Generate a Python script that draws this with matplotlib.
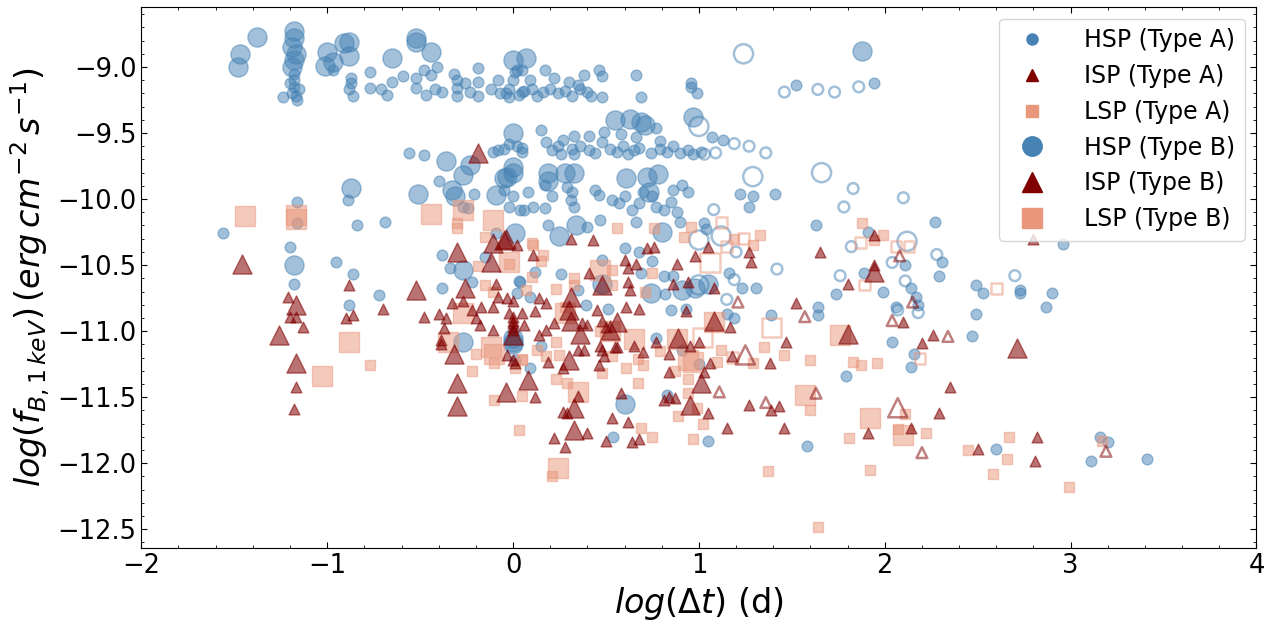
"""
Flux vs log(dt) scatter, HSP / ISP / LSP, Type A and Type B
"""
import numpy as np
import matplotlib
matplotlib.use('Agg')
import matplotlib.pyplot as plt
from matplotlib.lines import Line2D
from matplotlib.ticker import MultipleLocator

C_HSP = '#4682b4'
C_ISP = '#800000'
C_LSP = '#e9967a'

# ---- HSP, Type A (small filled circles) ----
hsp_a = [
    (-1.24, -9.23), (-1.18, -9.05), (-1.18, -9.1), (-1.18, -9.15), (-1.19, -9.2), (-1.17, -9.22),
    (-1.16, -9.25), (-1.2, -9.12), (-1.15, -9.17), (-0.97, -9.02), (-0.87, -9.08), (-0.87, -9.12),
    (-0.88, -9.17), (-0.86, -9.22), (-0.77, -9.04), (-0.77, -9.16), (-0.71, -9.17), (-0.68, -9.21),
    (-0.65, -9.11), (-0.59, -9.07), (-0.48, -9.02), (-0.52, -9.08), (-0.52, -9.16), (-0.47, -9.21),
    (-0.44, -9.06), (-0.41, -9.0), (-0.42, -9.17), (-0.38, -9.19), (-0.32, -9.05), (-0.3, -9.1),
    (-0.3, -9.16), (-0.3, -9.22), (-0.26, -9.12), (-0.19, -9.01), (-0.19, -9.11), (-0.19, -9.22),
    (-0.23, -9.19), (-0.12, -9.17), (-0.08, -9.1), (-0.07, -9.2), (-0.02, -9.17), (0.02, -9.02),
    (0.0, -9.1), (-0.02, -9.23), (0.05, -9.19), (-0.04, -9.2), (0.03, -9.21), (0.06, -9.18),
    (0.1, -9.17), (0.13, -9.22), (0.16, -9.19), (0.2, -9.17), (0.24, -9.2), (0.28, -9.18),
    (0.32, -9.22), (0.36, -9.17), (0.4, -9.19), (0.42, -9.22), (0.48, -9.23), (0.01, -9.04),
    (0.05, -9.02), (0.09, -9.1), (0.17, -9.02), (0.22, -9.08), (0.3, -9.11), (0.35, -9.14),
    (0.38, -9.06), (0.46, -9.02), (0.48, -9.07), (0.66, -9.06), (0.69, -9.23), (0.96, -9.12),
    (0.96, -9.15), (0.99, -9.2), (1.52, -9.14), (1.94, -9.12),
    (-0.56, -9.65), (-0.48, -9.67), (-0.11, -9.64), (-0.08, -9.63), (-0.02, -9.58), (0.05, -9.61),
    (0.15, -9.48), (0.49, -9.49), (0.58, -9.51), (0.77, -9.46), (1.07, -9.53), (1.13, -9.55),
    (-0.05, -9.62), (0.02, -9.6), (0.05, -9.64), (0.21, -9.63), (0.24, -9.6), (0.26, -9.66),
    (0.32, -9.62), (0.33, -9.66), (0.36, -9.6), (0.41, -9.63), (0.44, -9.65), (0.52, -9.62),
    (0.56, -9.64), (0.59, -9.6), (0.62, -9.66), (0.65, -9.63), (0.68, -9.61), (0.74, -9.65),
    (0.79, -9.62), (0.83, -9.64), (0.86, -9.6), (0.9, -9.65), (0.94, -9.63), (0.97, -9.66),
    (1.01, -9.64), (0.27, -9.55), (0.33, -9.52), (0.41, -9.52), (0.66, -9.53), (0.79, -9.56),
    (0.18, -9.57), (0.48, -9.57),
    (-0.89, -10.01), (-0.4, -9.86), (-0.27, -10.06), (-0.24, -10.07), (-0.21, -9.96), (-0.02, -10.06),
    (0.06, -10.08), (-0.05, -9.93), (0.0, -9.98), (0.08, -9.95), (0.11, -10.06), (0.04, -10.08),
    (0.17, -9.89), (0.17, -10.07), (0.21, -9.98), (0.29, -9.91), (0.31, -10.01), (0.33, -10.06),
    (0.32, -9.95), (0.44, -9.93), (0.46, -9.97), (0.53, -10.01), (0.57, -10.03), (0.6, -9.98),
    (0.64, -10.08), (0.68, -10.03), (0.7, -9.95), (0.75, -9.98), (0.77, -10.06), (0.81, -10.08),
    (0.86, -9.93), (0.85, -10.02), (0.91, -9.89), (0.94, -9.95), (0.88, -10.1), (1.22, -9.96),
    (1.29, -9.98), (1.27, -10.06), (1.41, -9.96),
    (-1.16, -10.02), (-1.16, -10.18), (-0.84, -10.2), (-0.69, -10.17), (-1.56, -10.26), (-1.2, -10.36),
    (-1.18, -10.64), (-0.95, -10.48), (-0.86, -10.57), (-0.88, -10.8), (-0.72, -10.73), (-0.38, -10.42),
    (-0.34, -10.52), (-0.38, -10.67), (-0.22, -10.63), (-0.15, -10.44), (-0.09, -10.26), (0.03, -10.62),
    (0.02, -10.71), (0.01, -11.22), (0.19, -10.2), (0.4, -10.21), (0.47, -10.16), (0.66, -10.17),
    (0.9, -10.17), (1.03, -10.18), (1.04, -10.23), (0.48, -10.46), (0.75, -10.47), (0.68, -10.4),
    (0.6, -10.37), (0.04, -10.63), (0.12, -10.55), (0.09, -10.74), (0.15, -11.11), (0.09, -11.28),
    (0.26, -10.57), (0.35, -10.69), (0.39, -10.8), (0.51, -10.83), (0.69, -10.56), (0.81, -10.58),
    (0.86, -10.58), (0.82, -10.72), (0.85, -10.84), (0.93, -10.83), (0.77, -11.05), (0.91, -11.14),
    (1.0, -11.25), (0.83, -11.48), (0.54, -11.8), (1.05, -11.83), (1.15, -10.87), (1.19, -10.9),
    (1.23, -10.67), (1.31, -10.67), (1.39, -10.88), (1.16, -10.56), (1.64, -10.82), (1.64, -10.88),
    (1.74, -10.72), (1.79, -11.34), (1.58, -11.87), (1.89, -10.56), (1.63, -10.2), (1.91, -10.25),
    (2.27, -10.17), (2.31, -10.48), (2.11, -10.5), (2.96, -10.34), (1.99, -10.7), (2.29, -10.58),
    (2.14, -10.67), (2.17, -10.74), (2.18, -10.8), (2.06, -10.82), (2.49, -10.65), (2.53, -10.71),
    (2.73, -10.71), (2.73, -10.69), (2.9, -10.71), (2.87, -10.82), (2.49, -10.87), (2.47, -11.04),
    (2.04, -11.08), (2.16, -11.17), (2.14, -11.27), (2.6, -11.89), (3.16, -11.8), (3.2, -11.84),
    (3.11, -11.98), (3.41, -11.97),
]

# ---- HSP, Type B (large filled circles) ----
hsp_b = [
    (-1.47, -8.9), (-1.48, -9.0), (-1.38, -8.77), (-1.18, -8.73), (-1.18, -8.78), (-1.19, -8.85),
    (-1.17, -8.9), (-1.18, -8.95), (-1.19, -9.0), (-1.0, -8.89), (-1.01, -8.99), (-0.97, -8.96),
    (-0.91, -8.82), (-0.88, -8.81), (-0.88, -8.92), (-0.65, -8.93), (-0.52, -8.78), (-0.52, -8.81),
    (-0.44, -8.89), (0.0, -8.95), (0.07, -8.93), (1.88, -8.88),
    (0.55, -9.4), (0.63, -9.39), (0.69, -9.42), (0.71, -9.44), (0.97, -9.38), (0.0, -9.5),
    (-0.36, -9.71), (-0.27, -9.82), (-0.23, -9.74), (0.0, -9.76), (0.0, -9.8),
    (-0.87, -9.92), (-0.51, -9.96), (-0.33, -9.93), (-0.31, -9.98), (-0.05, -9.84), (-0.09, -9.97),
    (0.19, -9.8), (0.19, -9.86), (0.28, -9.8), (0.33, -9.8), (0.61, -9.84), (0.72, -9.83),
    (0.78, -9.81), (0.73, -9.95), (-0.03, -9.83),
    (-1.18, -10.5), (-0.27, -10.54), (-0.27, -11.08), (0.01, -10.26), (0.0, -11.05), (0.0, -11.08),
    (0.25, -10.28), (0.34, -10.2), (0.8, -10.25), (0.91, -10.69), (0.98, -10.67), (1.05, -10.64),
    (0.74, -10.71), (0.6, -11.55), (0.48, -10.64), (0.0, -11.1),
]

hsp_open_a = [
    (1.46, -9.19), (1.64, -9.17), (1.73, -9.19), (1.86, -9.15), (1.19, -9.58), (1.27, -9.6),
    (1.36, -9.65), (1.09, -9.65), (1.03, -9.66), (1.83, -9.92), (1.78, -10.06), (1.08, -10.08),
    (1.2, -10.4), (1.82, -10.36), (2.1, -9.99), (2.28, -10.42), (2.04, -10.48), (1.42, -10.53),
    (1.76, -10.58), (1.19, -10.61), (1.15, -10.76), (2.11, -10.62), (2.07, -10.84), (2.18, -10.86),
    (2.7, -10.58),
]
hsp_open_b = [(1.24, -8.9), (1.0, -9.45), (1.29, -9.83), (1.66, -9.8), (1.0, -10.31),
              (1.12, -10.28), (1.0, -10.65), (2.12, -10.32)]

# ---- ISP ----
isp_a = [
    (-1.21, -10.74), (-1.2, -10.89), (-1.17, -10.89), (-1.13, -10.97), (-1.17, -11.42), (-1.18, -11.59),
    (-0.88, -10.65), (-0.9, -10.9), (-0.86, -10.88), (-0.7, -10.83), (-0.48, -10.89), (-0.4, -10.87),
    (-0.36, -10.9), (-0.37, -10.98), (-0.39, -11.07), (-0.39, -11.1), (-0.33, -10.79), (-0.27, -10.77),
    (-0.22, -10.84), (-0.2, -10.9), (-0.18, -10.95), (-0.17, -10.82), (-0.11, -10.82), (-0.11, -10.99),
    (-0.09, -10.64), (-0.08, -10.74), (-0.03, -10.75), (0.0, -10.89), (0.0, -10.94), (0.0, -10.97),
    (0.05, -10.86), (0.06, -10.95), (-0.03, -11.18), (0.01, -11.24), (0.02, -10.35),
    (0.6, -10.46), (0.62, -10.52), (0.66, -10.49), (0.88, -10.49), (0.41, -10.56), (0.62, -10.63),
    (0.63, -10.69), (0.86, -10.64), (0.94, -10.63), (1.08, -10.67), (1.28, -10.48), (1.8, -10.64),
    (0.0, -10.77), (-0.02, -10.86), (0.0, -10.92), (0.0, -10.99), (0.12, -10.85), (0.18, -10.79),
    (0.14, -10.75), (0.22, -10.94), (0.18, -10.99), (0.14, -11.03), (0.19, -11.23), (0.27, -11.28),
    (0.35, -11.14), (0.38, -11.14), (0.37, -10.94), (0.4, -10.95), (0.45, -10.84), (0.47, -11.11),
    (0.48, -11.14), (0.49, -11.19), (0.46, -11.26), (0.48, -10.92), (0.5, -10.97), (0.55, -11.12),
    (0.56, -11.12), (0.61, -10.82), (0.68, -10.83), (0.65, -11.11), (0.7, -11.16), (0.77, -11.08),
    (0.84, -11.17), (0.84, -11.31), (0.95, -11.11), (1.0, -11.08), (0.93, -10.85), (1.03, -11.31),
    (1.06, -11.24), (1.17, -10.97), (1.18, -11.19), (1.38, -11.24), (1.52, -10.79), (1.47, -11.08),
    (0.12, -11.5), (0.35, -11.49), (0.27, -11.61), (0.29, -11.62), (0.58, -11.47), (0.81, -11.52),
    (0.84, -11.5), (0.87, -11.51), (1.05, -11.62), (1.27, -11.56), (1.39, -11.6), (1.43, -11.57),
    (1.46, -11.73), (1.15, -11.73), (0.53, -11.66), (0.62, -11.69), (0.4, -11.77), (0.22, -11.81),
    (0.28, -11.88), (0.5, -11.83), (0.64, -11.84), (0.68, -11.82), (1.91, -11.77), (0.0, -11.22),
    (1.05, -10.36), (1.27, -10.4), (1.65, -10.4), (1.94, -10.27), (0.98, -10.43), (0.72, -10.37),
    (0.76, -10.36), (0.31, -10.3), (0.43, -10.31), (0.11, -10.42), (1.94, -10.5), (2.8, -10.3),
    (2.1, -10.93), (2.2, -11.09), (2.26, -11.03), (2.35, -11.42), (2.29, -11.62), (2.14, -11.73),
    (2.5, -11.89), (2.82, -11.8), (2.81, -11.98),
]
isp_b = [
    (-1.46, -10.49), (-1.17, -10.8), (-1.26, -11.03), (-1.17, -11.24), (-0.52, -10.69), (-0.3, -10.4),
    (-0.26, -10.67), (-0.12, -10.48), (-0.32, -11.17), (-0.3, -11.39), (-0.3, -11.57), (-0.04, -11.46),
    (-0.11, -10.33), (-0.05, -10.31), (0.0, -11.03), (-0.19, -9.65), (0.48, -10.65), (0.31, -10.74),
    (0.3, -10.84), (0.31, -10.92), (0.52, -10.99), (0.36, -11.02), (0.56, -10.93), (0.89, -11.05),
    (1.08, -10.92), (0.3, -11.22), (0.08, -11.37), (1.01, -11.39), (0.95, -11.56), (0.33, -11.58),
    (0.33, -11.75), (1.8, -11.02), (1.94, -10.55), (2.71, -11.13), (-0.04, -10.3),
]
isp_open_a = [(1.21, -10.78), (1.57, -10.89), (1.11, -11.46), (1.63, -11.47), (1.36, -11.54),
              (2.08, -10.43), (2.15, -10.78), (2.04, -10.92), (2.34, -11.04), (2.2, -11.92),
              (3.19, -11.91)]
isp_open_b = [(1.25, -11.18), (2.07, -11.58)]

# ---- LSP ----
lsp_a = [
    (-0.3, -10.18), (-0.3, -10.22), (-0.15, -10.29), (-0.19, -10.51), (-0.15, -10.65), (-0.11, -10.7),
    (-0.2, -11.17), (-0.22, -11.3), (-0.1, -11.24), (-0.1, -11.52), (0.05, -11.49), (0.03, -11.75),
    (0.01, -11.28), (0.05, -11.22), (-0.77, -11.26), (0.1, -10.33),
    (-0.02, -10.49), (0.15, -10.47), (0.53, -10.54), (0.75, -10.56), (0.1, -10.59), (0.07, -10.69),
    (0.23, -10.68), (0.33, -10.6), (0.33, -10.65), (0.53, -10.65), (0.71, -10.7), (0.28, -10.82),
    (0.23, -11.08), (0.13, -11.14), (0.18, -11.19), (0.25, -11.18), (0.05, -11.21), (0.47, -11.0),
    (0.53, -11.19), (0.61, -11.28), (0.67, -11.21), (0.7, -11.26), (0.79, -11.15), (0.67, -11.39),
    (0.48, -11.32), (0.23, -11.36), (0.29, -11.39), (0.87, -11.3), (0.94, -11.36), (0.94, -11.47),
    (0.99, -11.58), (0.89, -11.64), (1.02, -11.7), (0.97, -11.82), (0.75, -11.8), (0.69, -11.73),
    (0.21, -12.1), (1.12, -11.14), (1.1, -11.23), (1.29, -11.24), (1.35, -11.12), (1.46, -11.18),
    (1.6, -11.22), (1.6, -11.6), (1.83, -11.23), (1.87, -11.26), (1.81, -11.81), (1.92, -12.05),
    (1.37, -12.06), (1.64, -12.48),
    (1.88, -10.18), (1.33, -10.27), (1.29, -10.35), (1.19, -10.3), (0.92, -10.29), (0.96, -10.21),
    (0.76, -10.22), (0.56, -10.22), (0.11, -10.35), (0.16, -10.42), (1.99, -10.27), (1.94, -10.31),
    (1.96, -11.24), (2.11, -11.63), (2.07, -11.74), (2.22, -11.77), (2.45, -11.9), (2.67, -11.8),
    (2.66, -11.97), (2.58, -12.08), (2.99, -12.18), (3.17, -11.83),
]
lsp_b = [
    (-1.44, -10.13), (-1.17, -10.12), (-1.17, -10.15), (-0.44, -10.11), (-0.27, -10.08), (-0.11, -10.16),
    (-0.88, -11.08), (-1.03, -11.34), (-0.27, -10.86), (-0.35, -11.08), (-0.12, -11.12), (-0.1, -11.17),
    (-0.02, -10.48), (0.65, -11.06), (0.88, -11.06), (1.08, -10.93), (0.35, -11.46), (0.24, -12.04),
    (1.57, -11.48), (1.76, -11.03), (1.92, -11.66), (0.94, -11.22), (0.97, -11.23), (0.28, -10.86),
    (0.52, -11.0), (0.47, -10.54), (2.1, -11.79),
]
lsp_open_a = [(1.12, -10.18), (1.24, -10.3), (1.15, -10.36), (1.87, -10.33), (2.06, -10.36),
              (2.13, -10.36), (1.89, -10.65), (1.18, -11.2), (2.6, -10.68), (2.19, -11.21)]
lsp_open_b = [(1.06, -10.48), (1.02, -11.05), (1.39, -10.97)]

S_A, S_B = 60, 190

fig = plt.figure(figsize=(12.73, 6.28), dpi=100)
ax = fig.add_axes([0.111, 0.127, 0.876, 0.862])


def filled(pts, marker, color, size, alpha):
    p = np.array(pts)
    ax.scatter(p[:, 0], p[:, 1], s=size, marker=marker, facecolor=color,
               edgecolor=color, linewidth=1, alpha=alpha)


def hollow(pts, marker, color, size):
    p = np.array(pts)
    ax.scatter(p[:, 0], p[:, 1], s=size, marker=marker, facecolor='none',
               edgecolor=color, linewidth=1.8, alpha=0.5)


filled(hsp_a, 'o', C_HSP, S_A, 0.5)
filled(hsp_b, 'o', C_HSP, S_B, 0.5)
hollow(hsp_open_a, 'o', C_HSP, S_A)
hollow(hsp_open_b, 'o', C_HSP, S_B)
filled(lsp_a, 's', C_LSP, S_A, 0.5)
filled(lsp_b, 's', C_LSP, S_B, 0.5)
hollow(lsp_open_a, 's', C_LSP, S_A)
hollow(lsp_open_b, 's', C_LSP, S_B)
filled(isp_a, '^', C_ISP, S_A, 0.55)
filled(isp_b, '^', C_ISP, S_B, 0.55)
hollow(isp_open_a, '^', C_ISP, S_A)
hollow(isp_open_b, '^', C_ISP, S_B)

ax.set_xlim(-2, 4)
ax.set_ylim(-12.644, -8.545)
ax.xaxis.set_major_locator(MultipleLocator(1))
ax.xaxis.set_minor_locator(MultipleLocator(0.2))
ax.yaxis.set_major_locator(MultipleLocator(0.5))
ax.yaxis.set_minor_locator(MultipleLocator(0.1))
ax.tick_params(which='both', direction='in', top=True, right=True, labelsize=18.5)
ax.tick_params(which='major', length=4.5)
ax.tick_params(which='minor', length=2.5)

ax.set_xlabel(r'$log(\Delta t)$ (d)', fontsize=24)
ax.set_ylabel(r'$log(f_{B,1\,keV})\,(erg\,cm^{-2}\,s^{-1})$', fontsize=24)

handles = [
    Line2D([], [], ls='', marker='o', color=C_HSP, markersize=8),
    Line2D([], [], ls='', marker='^', color=C_ISP, markersize=8),
    Line2D([], [], ls='', marker='s', color=C_LSP, markersize=8),
    Line2D([], [], ls='', marker='o', color=C_HSP, markersize=14),
    Line2D([], [], ls='', marker='^', color=C_ISP, markersize=14),
    Line2D([], [], ls='', marker='s', color=C_LSP, markersize=14),
]
labels = ['HSP (Type A)', 'ISP (Type A)', 'LSP (Type A)',
          'HSP (Type B)', 'ISP (Type B)', 'LSP (Type B)']
ax.legend(handles, labels, loc='upper right', fontsize=17, handletextpad=1.2)

fig.savefig('out.png', dpi=100)
